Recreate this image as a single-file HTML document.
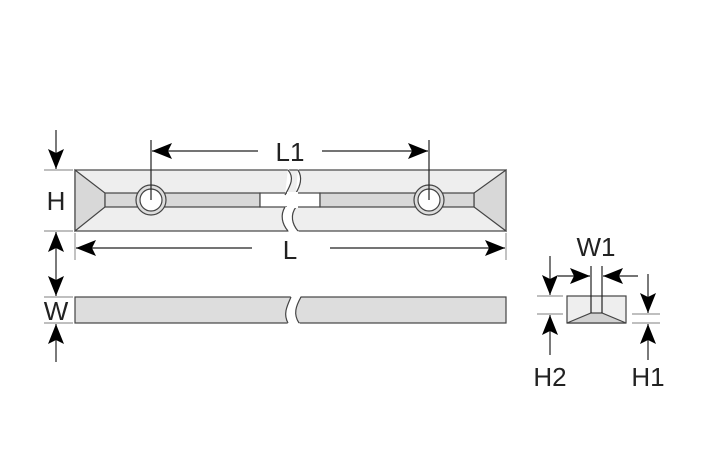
<!DOCTYPE html>
<html><head><meta charset="utf-8"><style>
html,body{margin:0;padding:0;background:#fff;width:709px;height:472px;overflow:hidden}
text{font-family:"Liberation Sans",sans-serif;font-size:26px;fill:#222}
</style></head><body>
<svg width="709" height="472" viewBox="0 0 709 472" xmlns="http://www.w3.org/2000/svg">
<defs>
<marker id="a" markerWidth="20" markerHeight="16" refX="20" refY="8" orient="auto" markerUnits="userSpaceOnUse">
<path d="M0,0 L20,8 L0,16 L4,8 Z" fill="#000"/></marker>
</defs>
<g stroke="#444" stroke-width="1.2">
<rect x="75" y="170" width="431" height="61" fill="#eee"/>
<polygon points="75,170 105,193 105,207 75,231" fill="#d8d8d8"/>
<polygon points="506,170 474,193 474,207 506,231" fill="#d8d8d8"/>
<rect x="105" y="193" width="155" height="14" fill="#d8d8d8"/>
<rect x="260" y="193" width="60" height="14" fill="#fff"/>
<rect x="320" y="193" width="154" height="14" fill="#d8d8d8"/>
<circle cx="151" cy="200" r="15" fill="#ddd"/><circle cx="151" cy="200" r="11" fill="#fff"/>
<circle cx="429" cy="200" r="15" fill="#ddd"/><circle cx="429" cy="200" r="11" fill="#fff"/>
</g>
<path d="M288,168 C295,178 290,186 285,195 M285,207 C280,215 282,224 290,233 L300,233 C292,224 290,215 296,207 M296,193 C300,185 303,178 298,168 Z" fill="#fff" stroke="none"/>
<path d="M288,170 C295,178 290,186 285,195 M285,207 C280,215 282,224 288,231 M298,170 C303,178 300,186 296,193 M296,207 C290,215 292,224 298,231" fill="none" stroke="#444" stroke-width="1.2"/>
<rect x="287" y="192" width="11" height="16" fill="#fff"/>
<rect x="75" y="297" width="431" height="26" fill="#ddd" stroke="#444" stroke-width="1.2"/>
<path d="M291,296 L301,296 C296,304 292,312 300,324 L288,324 C283,316 287,306 291,296 Z" fill="#fff"/>
<path d="M291,297 C287,306 283,314 288,323 M301,297 C296,306 293,314 299,323" fill="none" stroke="#444" stroke-width="1.2"/>
<rect x="567" y="296" width="59" height="27" fill="#eee" stroke="#444" stroke-width="1.2"/>
<polygon points="567,323 591,313 602,313 626,323" fill="#d2d2d2" stroke="#444" stroke-width="1.2"/>
<g stroke="#222" stroke-width="1.2" fill="none">
<line x1="591" y1="266" x2="591" y2="313"/><line x1="602" y1="266" x2="602" y2="313"/>
<g stroke="#999"><line x1="44" y1="170" x2="73" y2="170"/><line x1="44" y1="231" x2="73" y2="231"/>
<line x1="44" y1="297" x2="73" y2="297"/><line x1="44" y1="323" x2="73" y2="323"/>
<line x1="537" y1="296" x2="563" y2="296"/><line x1="537" y1="314" x2="563" y2="314"/>
<line x1="632" y1="314" x2="660" y2="314"/><line x1="632" y1="323" x2="660" y2="323"/>
<line x1="75" y1="233" x2="75" y2="260"/><line x1="506" y1="233" x2="506" y2="260"/></g>
<line x1="151" y1="140" x2="151" y2="200"/><line x1="429" y1="140" x2="429" y2="200"/>
<line x1="56" y1="130" x2="56" y2="169" marker-end="url(#a)"/>
<line x1="56" y1="264" x2="56" y2="232" marker-end="url(#a)"/>
<line x1="56" y1="264" x2="56" y2="296" marker-end="url(#a)"/>
<line x1="56" y1="362" x2="56" y2="324" marker-end="url(#a)"/>
<line x1="258" y1="151" x2="152" y2="151" marker-end="url(#a)"/>
<line x1="322" y1="151" x2="428" y2="151" marker-end="url(#a)"/>
<line x1="252" y1="248" x2="76" y2="248" marker-end="url(#a)"/>
<line x1="330" y1="248" x2="505" y2="248" marker-end="url(#a)"/>
<line x1="550" y1="256" x2="550" y2="295" marker-end="url(#a)"/>
<line x1="550" y1="355" x2="550" y2="315" marker-end="url(#a)"/>
<line x1="558" y1="276" x2="590" y2="276" marker-end="url(#a)"/>
<line x1="638" y1="276" x2="603" y2="276" marker-end="url(#a)"/>
<line x1="648" y1="274" x2="648" y2="313" marker-end="url(#a)"/>
<line x1="648" y1="360" x2="648" y2="324" marker-end="url(#a)"/>
</g>
<text x="56" y="210" text-anchor="middle">H</text>
<text x="56" y="320" text-anchor="middle">W</text>
<text x="290" y="161" text-anchor="middle">L1</text>
<text x="290" y="259" text-anchor="middle">L</text>
<text x="596" y="256" text-anchor="middle">W1</text>
<text x="550" y="386" text-anchor="middle">H2</text>
<text x="648" y="386" text-anchor="middle">H1</text>
</svg>
</body></html>
